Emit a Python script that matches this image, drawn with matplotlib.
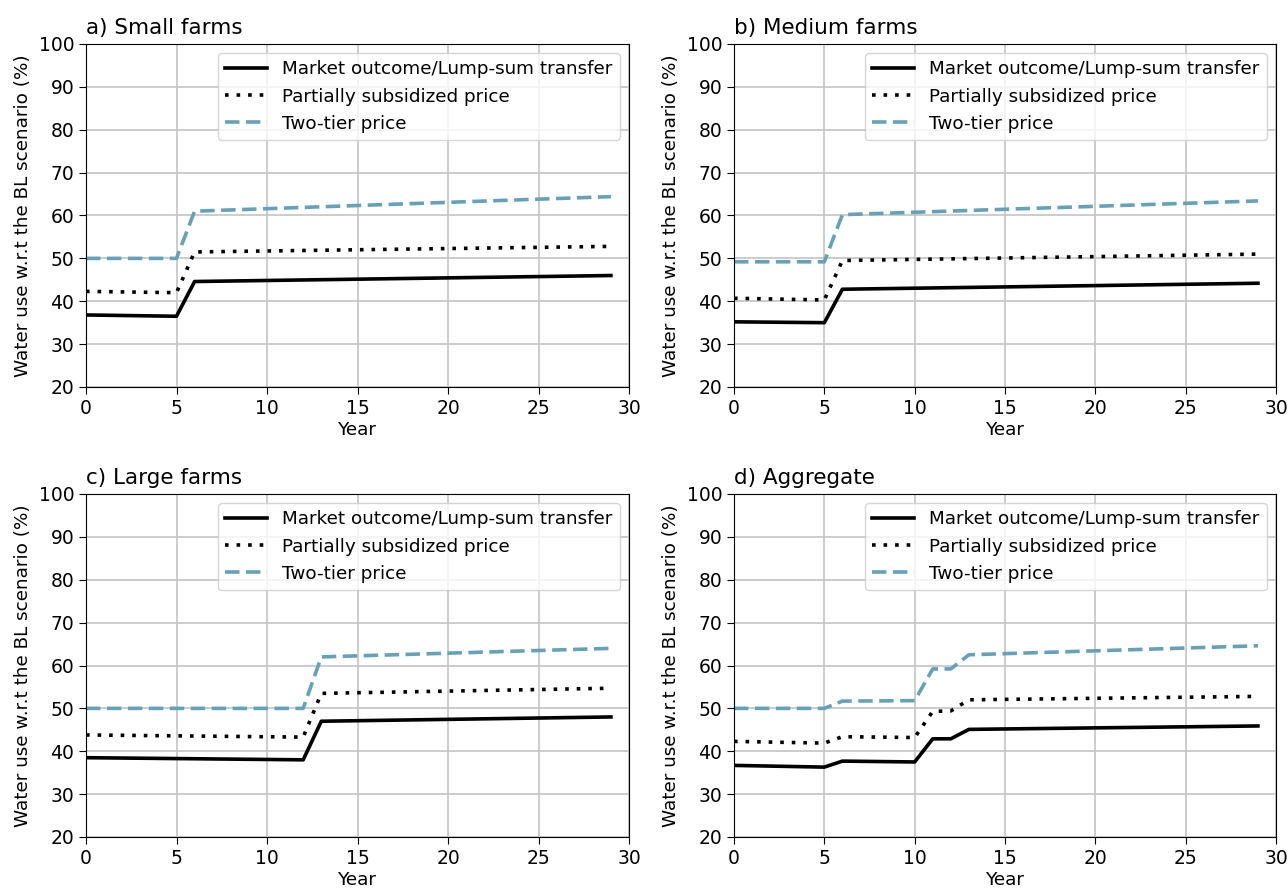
import matplotlib
matplotlib.use("Agg")
import matplotlib.pyplot as plt

titles = ["a) Small farms", "b) Medium farms", "c) Large farms", "d) Aggregate"]
labels = ["Market outcome/Lump-sum transfer", "Partially subsidized price", "Two-tier price"]

# x values per panel and series values
x_a = [0, 5, 6, 29]
mkt_a = [36.8, 36.5, 44.6, 46.0]
par_a = [42.3, 42.0, 51.5, 52.8]
two_a = [50.0, 50.0, 61.0, 64.4]

x_b = [0, 5, 6, 29]
mkt_b = [35.2, 35.0, 42.8, 44.2]
par_b = [40.7, 40.3, 49.5, 51.0]
two_b = [49.2, 49.2, 60.2, 63.4]

x_c = [0, 12, 13, 29]
mkt_c = [38.5, 38.0, 47.0, 48.0]
par_c = [43.8, 43.3, 53.5, 54.7]
two_c = [50.0, 50.0, 62.0, 64.0]

x_d = [0, 5, 6, 10, 11, 12, 13, 29]
mkt_d = [36.7, 36.3, 37.7, 37.5, 42.9, 42.9, 45.1, 45.9]
par_d = [42.3, 41.9, 43.4, 43.2, 49.3, 49.4, 52.0, 52.8]
two_d = [50.0, 50.0, 51.7, 51.8, 59.2, 59.2, 62.5, 64.6]

panels = [(x_a, mkt_a, par_a, two_a), (x_b, mkt_b, par_b, two_b),
          (x_c, mkt_c, par_c, two_c), (x_d, mkt_d, par_d, two_d)]

xticks = [0, 5, 10, 15, 20, 25, 30]
yticks = [20, 30, 40, 50, 60, 70, 80, 90, 100]

fig = plt.figure(figsize=(12.88, 8.92), dpi=100)
W, H = 1288, 892
boxes = [(86, 44, 629, 387), (734, 44, 1276, 387), (86, 494, 629, 837), (734, 494, 1276, 837)]

for i, (box, (x, m, p, t)) in enumerate(zip(boxes, panels)):
    l, tp, r, b = box
    ax = fig.add_axes([l / W, 1 - b / H, (r - l) / W, (b - tp) / H])
    ax.plot(x, m, color="black", lw=2.6, ls="-", label=labels[0])
    ax.plot(x, p, color="black", lw=2.6, ls=(0, (1, 2.2)), label=labels[1])
    ax.plot(x, t, color="#64a2b9", lw=2.6, ls=(0, (4.0, 1.8)), label=labels[2])
    ax.set_xlim(0, 30)
    ax.set_ylim(20, 100)
    ax.set_xticks(xticks)
    ax.set_yticks(yticks)
    ax.grid(True, color="#c4c4c4", lw=1.2)
    ax.tick_params(labelsize=13.5, length=5)
    ax.set_xlabel("Year", fontsize=13.2, labelpad=2)
    ax.set_ylabel("Water use w.r.t the BL scenario (%)", fontsize=13.2, labelpad=5)
    ax.set_title(titles[i], loc="left", fontsize=15.5, x=0.0, pad=7)
    ax.legend(loc="upper right", fontsize=13.2, handlelength=2.3, framealpha=0.8,
              borderaxespad=0.5)

fig.savefig("out.png", dpi=100)
